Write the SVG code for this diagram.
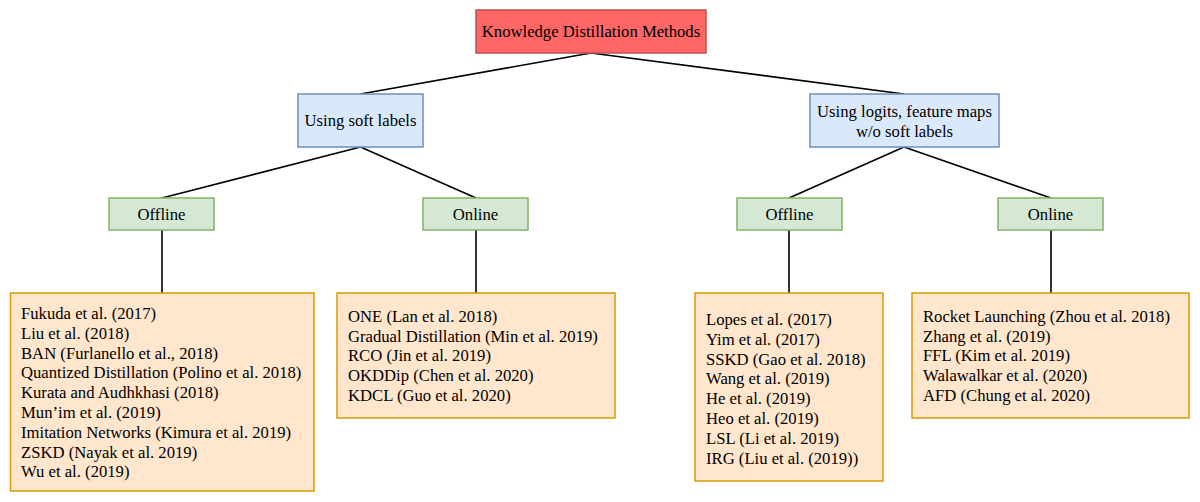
<svg xmlns="http://www.w3.org/2000/svg" width="1200" height="502" viewBox="0 0 1200 502">
<style>
text{font-family:"Liberation Serif","Times New Roman",serif;font-size:16.67px;fill:#000}
.c{text-anchor:middle}
.root{fill:#ff6666;stroke:#b85450;stroke-width:1.5}
.blue{fill:#dae8fc;stroke:#6c8ebf;stroke-width:1.5}
.green{fill:#d5e8d4;stroke:#82b366;stroke-width:1.5}
.leaf{fill:#ffe6cc;stroke:#d79b00;stroke-width:1.5}
.edge{stroke:#000;stroke-width:1.6;fill:none}
</style>
<rect width="1200" height="502" fill="#fff"/>
<g id="connectors">
<line class="edge" x1="591" y1="53" x2="360.5" y2="94"/>
<line class="edge" x1="591" y1="53" x2="904" y2="94"/>
<line class="edge" x1="360.5" y1="147" x2="162" y2="198"/>
<line class="edge" x1="360.5" y1="147" x2="476" y2="198"/>
<line class="edge" x1="904" y1="147" x2="789" y2="198"/>
<line class="edge" x1="904" y1="147" x2="1051" y2="198"/>
<line class="edge" x1="162" y1="230" x2="162" y2="293"/>
<line class="edge" x1="476" y1="230" x2="476" y2="293"/>
<line class="edge" x1="789" y1="230" x2="789" y2="293"/>
<line class="edge" x1="1051" y1="230" x2="1051" y2="293"/>
</g>
<g id="root">
<rect class="root" x="476" y="10" width="230" height="43"/>
<text class="c" x="591" y="37">Knowledge Distillation Methods</text>
</g>
<g id="soft">
<rect class="blue" x="298" y="94" width="125" height="53"/>
<text class="c" x="360.5" y="126">Using soft labels</text>
</g>
<g id="logits">
<rect class="blue" x="810" y="94" width="189" height="53"/>
<text class="c" x="904.5" y="117">Using logits, feature maps</text>
<text class="c" x="904.5" y="137">w/o soft labels</text>
</g>
<g id="soft-offline">
<rect class="green" x="109" y="198" width="105" height="32"/>
<text class="c" x="161.5" y="220">Offline</text>
</g>
<g id="soft-online">
<rect class="green" x="423" y="198" width="105" height="32"/>
<text class="c" x="475.5" y="220">Online</text>
</g>
<g id="logits-offline">
<rect class="green" x="737" y="198" width="105" height="32"/>
<text class="c" x="789.5" y="220">Offline</text>
</g>
<g id="logits-online">
<rect class="green" x="998" y="198" width="105" height="32"/>
<text class="c" x="1050.5" y="220">Online</text>
</g>
<g id="soft-offline-list">
<rect class="leaf" x="10.5" y="293" width="303.5" height="198"/>
<text x="21" y="319">Fukuda et al. (2017)</text>
<text x="21" y="338.8">Liu et al. (2018)</text>
<text x="21" y="358.6">BAN (Furlanello et al., 2018)</text>
<text x="21" y="378.4">Quantized Distillation (Polino et al. 2018)</text>
<text x="21" y="398.2">Kurata and Audhkhasi (2018)</text>
<text x="21" y="418">Mun’im et al. (2019)</text>
<text x="21" y="437.8">Imitation Networks (Kimura et al. 2019)</text>
<text x="21" y="457.6">ZSKD (Nayak et al. 2019)</text>
<text x="21" y="477.4">Wu et al. (2019)</text>
</g>
<g id="soft-online-list">
<rect class="leaf" x="337" y="293" width="278" height="125"/>
<text x="348" y="321.7">ONE (Lan et al. 2018)</text>
<text x="348" y="341.5">Gradual Distillation (Min et al. 2019)</text>
<text x="348" y="361.3">RCO (Jin et al. 2019)</text>
<text x="348" y="381.1">OKDDip (Chen et al. 2020)</text>
<text x="348" y="400.9">KDCL (Guo et al. 2020)</text>
</g>
<g id="logits-offline-list">
<rect class="leaf" x="695" y="293" width="188" height="188"/>
<text x="706" y="325">Lopes et al. (2017)</text>
<text x="706" y="344.8">Yim et al. (2017)</text>
<text x="706" y="364.6">SSKD (Gao et al. 2018)</text>
<text x="706" y="384.4">Wang et al. (2019)</text>
<text x="706" y="404.2">He et al. (2019)</text>
<text x="706" y="424">Heo et al. (2019)</text>
<text x="706" y="443.8">LSL (Li et al. 2019)</text>
<text x="706" y="463.6">IRG (Liu et al. (2019))</text>
</g>
<g id="logits-online-list">
<rect class="leaf" x="912" y="293" width="277" height="125"/>
<text x="923" y="321.7">Rocket Launching (Zhou et al. 2018)</text>
<text x="923" y="341.5">Zhang et al. (2019)</text>
<text x="923" y="361.3">FFL (Kim et al. 2019)</text>
<text x="923" y="381.1">Walawalkar et al. (2020)</text>
<text x="923" y="400.9">AFD (Chung et al. 2020)</text>
</g>
</svg>
